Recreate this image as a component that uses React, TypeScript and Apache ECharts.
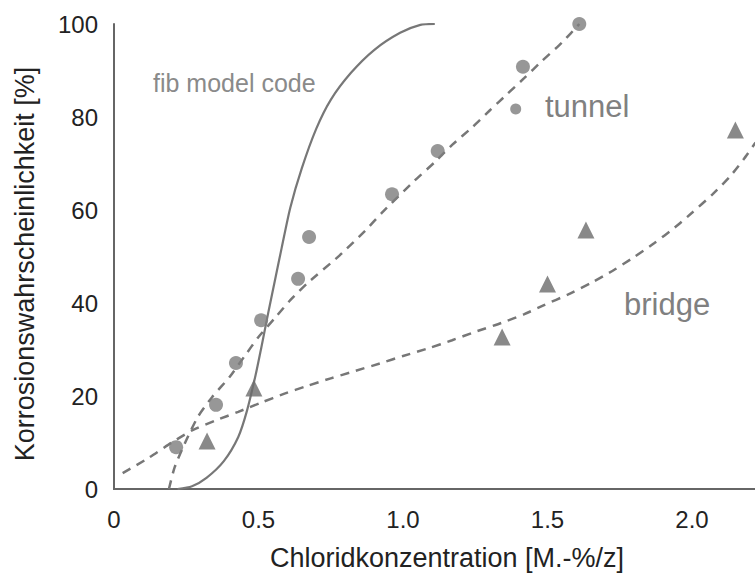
import React, { useEffect, useRef } from "react";
import * as echarts from "echarts";

// Measured corrosion probabilities: [chloride content, probability %]
const tunnelPoints: number[][] = [
  [0.215, 9.0], [0.353, 18.1], [0.422, 27.1], [0.509, 36.3], [0.637, 45.2],
  [0.675, 54.2], [0.962, 63.4], [1.12, 72.7], [1.39, 81.7], [1.415, 90.8], [1.61, 100],
];
const bridgePoints: number[][] = [
  [0.322, 10.3], [0.484, 21.7], [1.343, 32.7], [1.5, 44.1], [1.633, 55.7], [2.15, 77.2],
];

// Fitted trend curves
const tunnelFit: number[][] = [
  [0.19, 0], [0.21, 4.7], [0.25, 10.5], [0.29, 15.5], [0.34, 19.8], [0.4, 24.1],
  [0.45, 28.4], [0.5, 32.7], [0.56, 37.0], [0.61, 40.6], [0.67, 44.3], [0.78, 50.2],
  [0.87, 55.6], [0.93, 59.6], [1.04, 66.3], [1.11, 70.3], [1.17, 74.0], [1.24, 77.8],
  [1.3, 81.4], [1.36, 84.9], [1.42, 88.4], [1.48, 92.0], [1.55, 96.0], [1.61, 100],
];
const bridgeFit: number[][] = [
  [0.03, 3.4], [0.12, 6.7], [0.2, 10.0], [0.27, 12.6], [0.35, 14.7], [0.43, 16.6],
  [0.51, 18.6], [0.59, 20.5], [0.67, 22.2], [0.75, 23.8], [0.83, 25.3], [0.92, 27.0],
  [1.0, 28.6], [1.09, 30.3], [1.17, 32.0], [1.25, 33.8], [1.34, 35.7], [1.42, 37.6],
  [1.49, 39.6], [1.57, 41.8], [1.65, 44.3], [1.73, 47.1], [1.8, 49.9], [1.87, 52.9],
  [1.94, 56.2], [2.0, 59.4], [2.07, 63.3], [2.13, 67.1], [2.18, 71.0], [2.22, 74.5],
];
// fib Model Code reference curve
const fibCurve: number[][] = [
  [0.22, 0], [0.27, 0.6], [0.32, 2.4], [0.38, 6.0], [0.43, 11.2], [0.46, 16.8],
  [0.49, 24.5], [0.51, 30.5], [0.535, 38.3], [0.56, 45.8], [0.58, 51.8], [0.61, 60.5],
  [0.65, 69.0], [0.7, 77.5], [0.75, 83.7], [0.82, 89.5], [0.9, 94.4], [0.99, 98.1],
  [1.06, 99.8], [1.11, 100],
];

const xTicks = { min: 0, max: 2.218, interval: 0.5 };
const yTicks = { min: 0, max: 100, interval: 20 };

const FONT = "'Liberation Sans', Arial, Helvetica, sans-serif";
const AXIS = "#666666";
const MARK = "#777777";

export default function App() {
  const ref = useRef<HTMLDivElement>(null);

  useEffect(() => {
    if (!ref.current) return;
    const chart = echarts.init(ref.current, undefined, { renderer: "svg" });
    const dashed = { color: MARK, width: 2.5, type: [9, 7] as number[] };
    chart.setOption({
      animation: false,
      backgroundColor: "#ffffff",
      textStyle: { fontFamily: FONT },
      grid: { left: 114, right: 0, top: 24, bottom: 85 },
      xAxis: [
        {
          type: "value",
          min: xTicks.min,
          max: xTicks.max,
          interval: xTicks.interval,
          axisLine: { show: true, onZero: false, lineStyle: { color: AXIS, width: 2 } },
          axisTick: { show: false },
          splitLine: { show: false },
          axisLabel: {
            color: "#222",
            fontSize: 24,
            fontFamily: FONT,
            margin: 18,
            showMaxLabel: false,
            formatter: (v: number) => (v === 0 ? "0" : v.toFixed(1)),
          },
        },
        {
          type: "value",
          position: "top",
          min: xTicks.min,
          max: xTicks.max,
          axisLine: { show: true, lineStyle: { color: AXIS, width: 2 } },
          axisTick: { show: false },
          axisLabel: { show: false },
          splitLine: { show: false },
        },
      ],
      yAxis: {
        type: "value",
        min: yTicks.min,
        max: yTicks.max,
        interval: yTicks.interval,
        axisLine: { show: true, lineStyle: { color: AXIS, width: 2 } },
        axisTick: { show: false },
        splitLine: { show: false },
        axisLabel: { color: "#222", fontSize: 24, fontFamily: FONT, margin: 16 },
      },
      graphic: [
        {
          type: "text",
          x: 25,
          y: 264,
          rotation: Math.PI / 2,
          style: {
            text: "Korrosionswahrscheinlichkeit [%]",
            fill: "#222",
            font: `27px ${FONT}`,
            align: "center",
            verticalAlign: "middle",
          },
        },
        {
          type: "text",
          x: 447,
          y: 558,
          style: {
            text: "Chloridkonzentration [M.-%/z]",
            fill: "#222",
            font: `27px ${FONT}`,
            align: "center",
            verticalAlign: "middle",
          },
        },
        {
          type: "text",
          x: 153,
          y: 83,
          style: { text: "fib model code", fill: "#8a8a8a", font: `25px ${FONT}`, verticalAlign: "middle" },
        },
        {
          type: "text",
          x: 545,
          y: 106,
          style: { text: "tunnel", fill: "#808080", font: `31px ${FONT}`, verticalAlign: "middle" },
        },
        {
          type: "text",
          x: 624,
          y: 304,
          style: { text: "bridge", fill: "#808080", font: `31px ${FONT}`, verticalAlign: "middle" },
        },
      ],
      series: [
        {
          type: "line",
          data: fibCurve,
          smooth: 0.25,
          showSymbol: false,
          lineStyle: { color: MARK, width: 2.2 },
          z: 2,
        },
        {
          type: "line",
          data: tunnelFit,
          smooth: 0.2,
          showSymbol: false,
          lineStyle: dashed,
          z: 2,
        },
        {
          type: "line",
          data: bridgeFit,
          smooth: 0.2,
          showSymbol: false,
          lineStyle: dashed,
          z: 2,
        },
        {
          type: "scatter",
          data: tunnelPoints.map((p) => ({
            value: p,
            symbolSize: p[0] === 1.39 ? 11 : 14,
          })),
          symbol: "circle",
          itemStyle: { color: "#7d7d7d" },
          z: 3,
        },
        {
          type: "scatter",
          data: bridgePoints,
          symbol: "triangle",
          symbolSize: 17,
          itemStyle: { color: "#6b6b6b" },
          z: 3,
        },
      ],
    });
    return () => chart.dispose();
  }, []);

  return <div ref={ref} style={{ width: 755, height: 574, position: "absolute", left: 0, top: 0 }} />;
}
